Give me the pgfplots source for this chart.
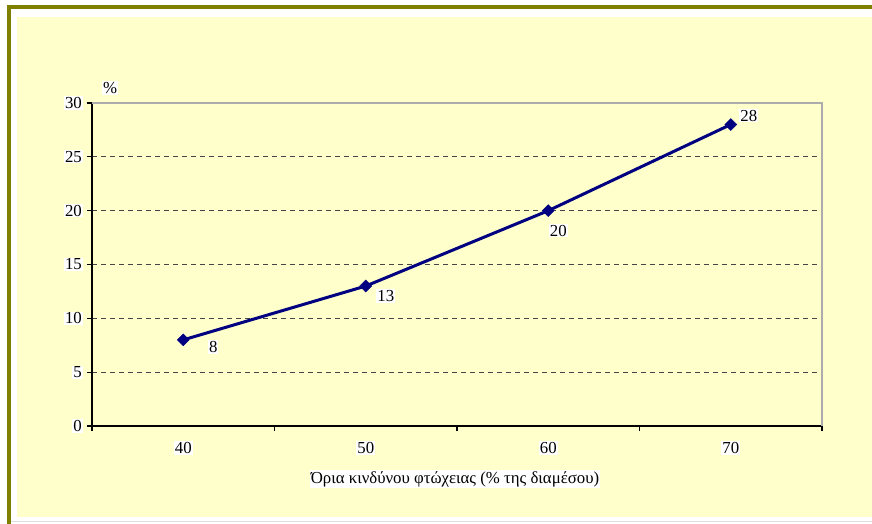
\documentclass[border=0pt]{standalone}
\usepackage{fontspec}
\setmainfont{Liberation Serif}
\usepackage{pgfplots}
\pgfplotsset{compat=1.18}
\definecolor{olivebar}{HTML}{808000}
\definecolor{bgyellow}{HTML}{FFFFCC}
\definecolor{navyline}{HTML}{000080}
\begin{document}
\begin{tikzpicture}[x=1pt,y=1pt,font=\fontsize{16.8}{20}\selectfont]
\useasboundingbox (0,0) rectangle (872,523);
\fill[white] (0,0) rectangle (872,523);
\draw[olivebar, line width=4pt] (9,-5) -- (9,516) -- (880,516);
\fill[bgyellow] (17,6) rectangle (872,506);
\draw[gray!25, line width=1.5pt] (11,1.5) -- (872,1.5);
\begin{axis}[at={(92pt,97pt)}, anchor=south west, scale only axis,
  width=730pt, height=323pt,
  xmin=-0.5, xmax=3.5, ymin=0, ymax=30,
  axis lines=left, axis line style={-, black, line width=1.6pt},
  xtick={-0.5,0.5,1.5,2.5,3.5}, x tick label as interval, xticklabels={40,50,60,70},
  ytick={0,5,...,30},
  tick align=outside, major tick length=5pt, tick style={black, line width=1.2pt},
  ymajorgrids, grid style={gray!55!black, line width=1.3pt, dash pattern=on 5pt off 4pt},
  /pgf/number format/assume math mode=true,
  yticklabel style={fill=white, inner sep=1pt, xshift=-4pt},
  xticklabel style={fill=white, inner sep=1pt, yshift=-10pt},
  clip=false]
\draw[gray!65, line width=1.3pt] (rel axis cs:0,1) -- (rel axis cs:1,1) -- (rel axis cs:1,0);
\addplot[navyline, line width=3pt, mark=square*, mark size=4.2pt,
  mark options={rotate=45, line width=0.5pt, solid}]
  coordinates {(0,8) (1,13) (2,20) (3,28)};
\node[fill=white, inner sep=1pt, xshift=30pt, yshift=-7pt] at (axis cs:0,8) {8};
\node[fill=white, inner sep=1pt, xshift=20pt, yshift=-10pt] at (axis cs:1,13) {13};
\node[fill=white, inner sep=1pt, xshift=10pt, yshift=-20pt] at (axis cs:2,20) {20};
\node[fill=white, inner sep=1pt, xshift=18pt, yshift=9pt] at (axis cs:3,28) {28};
\node[fill=white, inner sep=1pt, xshift=18pt, yshift=15pt] at (rel axis cs:0,1) {\%};
\node[fill=white, inner sep=1pt, xshift=-2pt, yshift=-53pt] at (rel axis cs:0.5,0) {Όρια κινδύνου φτώχειας (\% της διαμέσου)};
\end{axis}
\end{tikzpicture}
\end{document}
